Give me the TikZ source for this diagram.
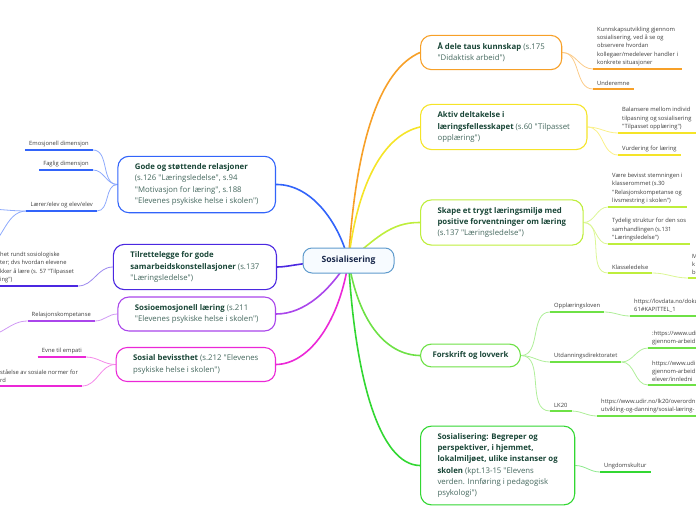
\documentclass[tikz,border=0pt]{standalone}
\usepackage{fontspec}
\setmainfont{Open Sans}[Ligatures=TeXOff]
\usetikzlibrary{backgrounds}
\definecolor{brorange}{RGB}{247,160,40}
\definecolor{bryellow}{RGB}{245,228,40}
\definecolor{brlime}{RGB}{190,238,60}
\definecolor{brgreen}{RGB}{110,225,70}
\definecolor{brgreenb}{RGB}{50,215,50}
\definecolor{brblue}{RGB}{50,100,250}
\definecolor{brindigo}{RGB}{75,40,225}
\definecolor{brpurple}{RGB}{170,70,235}
\definecolor{brmagenta}{RGB}{235,40,215}
\definecolor{rootline}{RGB}{95,155,205}
\definecolor{rootfill}{RGB}{247,251,255}
\definecolor{rootnavy}{RGB}{25,40,75}
\definecolor{headgreen}{RGB}{25,70,55}
\definecolor{refgray}{RGB}{70,105,95}
\definecolor{leafgray}{RGB}{60,60,60}
\newcommand{\tbold}[1]{\textbf{\color{headgreen}#1}}

\begin{document}
\begin{tikzpicture}[x=1pt, y=-1pt]
  \tikzset{
      root/.style={draw=rootline, fill=rootfill, line width=1pt, rounded corners=9pt, minimum width=91pt, minimum height=25pt, text=rootnavy, font=\fontsize{8.6}{10}\selectfont\bfseries},
      topic/.style={draw=#1, fill=white, line width=1.1pt, rounded corners=11pt, align=left, inner xsep=17pt, inner ysep=7.5pt, text=refgray, font=\fontsize{7.8}{11.2}\selectfont},
      leaf/.style={align=left, inner xsep=4pt, inner ysep=3pt, text=leafgray, font=\fontsize{5.8}{8.3}\selectfont},
      branch/.style={draw=#1, line width=1.6pt},
      twig/.style={draw=#1!55!white, line width=0.8pt},
      uline/.style={draw=#1, line width=1.6pt}
  }
  \useasboundingbox (0,0) rectangle (696,520);
  \clip (0,0) rectangle (696,520);

  \node[root] (root) at (348.5,260.5) {Sosialisering};

  \node[topic=brorange, anchor=west] (share) at (420,52.5) {\tbold{Å dele taus kunnskap} (s.175\\"Didaktisk arbeid")};
  \node[topic=bryellow, anchor=west] (aktiv) at (420,127) {\tbold{Aktiv deltakelse i}\\\tbold{læringsfellesskapet} (s.60 "Tilpasset\\opplæring")};
  \node[topic=brlime, anchor=west] (trygt) at (420,222.5) {\tbold{Skape et trygt læringsmiljø med}\\\tbold{positive forventninger om læring}\\(s.137 "Læringsledelse")};
  \node[topic=brgreen, anchor=west, inner xsep=12pt] (lov) at (420,355.5) {\tbold{Forskrift og lovverk}};
  \node[topic=brgreenb, anchor=west] (begrep) at (420,465.5) {\tbold{Sosialisering: Begreper og}\\\tbold{perspektiver, i hjemmet,}\\\tbold{lokalmiljøet, ulike instanser og}\\\tbold{skolen} (kpt.13-15 "Elevens\\verden. Innføring i pedagogisk\\psykologi")};

  \node[topic=brblue, anchor=east] (relasj) at (276,184.5) {\tbold{Gode og støttende relasjoner}\\(s.126 "Læringsledelse", s.94\\"Motivasjon for læring", s.188\\"Elevenes psykiske helse i skolen")};
  \node[topic=brindigo, anchor=east] (samarb) at (277,267) {\tbold{Tilrettelegge for gode}\\\tbold{samarbeidskonstellasjoner} (s.137\\"Læringsledelse")};
  \node[topic=brpurple, anchor=east] (sosemo) at (276,314) {\tbold{Sosioemosjonell læring} (s.211\\"Elevenes psykiske helse i skolen")};
  \node[topic=brmagenta, anchor=east] (bevisst) at (276,364.5) {\tbold{Sosial bevissthet} (s.212 "Elevenes\\psykiske helse i skolen")};

  \node[leaf, anchor=south west] (kunn) at (593,69) {Kunnskapsutvikling gjennom\\sosialisering, ved å se og\\observere hvordan\\kollegaer/medelever handler i\\konkrete situasjoner};
  \node[leaf, anchor=south west] (under) at (593,89) {Underemne};
  \node[leaf, anchor=south west] (bal) at (618,133) {Balansere mellom individ\\tilpasning og sosialisering\\"Tilpasset opplæring")};
  \node[leaf, anchor=south west] (vurd) at (618,155) {Vurdering for læring};
  \node[leaf, anchor=south west] (vaere) at (608,207) {Være bevisst stemningen i\\klasserommet (s.30\\"Relasjonskompetanse og\\livsmestring i skolen")};
  \node[leaf, anchor=south west] (tyd) at (608,244) {Tydelig struktur for den sos\\samhandlingen (s.131\\"Læringsledelse")};
  \node[leaf, anchor=south west] (klasse) at (608,273) {Klasseledelse};
  \node[leaf, anchor=south west] (klm) at (688,278) {M\\k\\b};
  \node[leaf, anchor=south west] (opp) at (550,312) {Opplæringsloven};
  \node[leaf, anchor=south west] (lovd) at (630,316) {https://lovdata.no/doku\\61\#KAPITTEL\_1};
  \node[leaf, anchor=south west] (udir) at (550,362) {Utdanningsdirektoratet};
  \node[leaf, anchor=south west] (udia) at (648,348) {:https://www.udi\\gjennom-arbeid};
  \node[leaf, anchor=south west] (udib) at (648,385) {https://www.udi\\gjennom-arbeid\\elever/innledni};
  \node[leaf, anchor=south west] (lk) at (550,411) {LK20};
  \node[leaf, anchor=south west] (lklink) at (597,416) {https://www.udir.no/lk20/overordn\\utvikling-og-danning/sosial-læring-};
  \node[leaf, anchor=south west] (ungdom) at (600,472) {Ungdomskultur};

  \node[leaf, anchor=south east] (emo) at (93,150) {Emosjonell dimensjon};
  \node[leaf, anchor=south east] (fag) at (93,170) {Faglig dimensjon};
  \node[leaf, anchor=south east] (lerer) at (97,211) {Lærer/elev og elev/elev};
  \node[leaf, anchor=south west] (sosio) at (-4,286) {het rundt sosiologiske\\ter; dvs hvordan elevene\\kker å lære (s. 57 "Tilpasset\\ing")};
  \node[leaf, anchor=south east] (rel) at (95,321) {Relasjonskompetanse};
  \node[leaf, anchor=south east] (emp) at (86,357) {Evne til empati};
  \node[leaf, anchor=south west] (norm) at (-4,386) {ståelse av sosiale normer for\\rd};

  \coordinate (offa) at (-15,209);
  \coordinate (offb) at (-20,249);
  \coordinate (offc) at (-15,336);

  \foreach \n/\c in {kunn/brorange, under/brorange, bal/bryellow, vurd/bryellow,
      vaere/brlime, tyd/brlime, klasse/brlime, klm/brlime,
      opp/brgreen, lovd/brgreen, udir/brgreen, udia/brgreen, udib/brgreen, lk/brgreen, lklink/brgreen,
      ungdom/brgreenb, emo/brblue, fag/brblue, lerer/brblue, sosio/brindigo,
      rel/brpurple, emp/brmagenta, norm/brmagenta}
    \draw[uline=\c] (\n.south west) -- (\n.south east);

  \begin{scope}[on background layer]
    \draw[branch=brorange] (root.center) .. controls (356,140) and (380,70) .. (share.west);
    \draw[branch=bryellow] (root.center) .. controls (358,180) and (385,135) .. (aktiv.west);
    \draw[branch=brlime] (root.center) .. controls (375,240) and (390,222) .. (trygt.west);
    \draw[branch=brgreen] (root.center) .. controls (358,320) and (385,355) .. (lov.west);
    \draw[branch=brgreenb] (root.center) .. controls (355,380) and (380,465) .. (begrep.west);
    \draw[branch=brblue] (root.center) .. controls (338,220) and (310,184) .. (relasj.east);
    \draw[branch=brindigo] (root.center) .. controls (300,262) and (290,267) .. (samarb.east);
    \draw[branch=brpurple] (root.center) .. controls (330,290) and (305,314) .. (sosemo.east);
    \draw[branch=brmagenta] (root.center) .. controls (340,320) and (310,364) .. (bevisst.east);

    \draw[twig=brorange] (share.east) to[out=0,in=180] (kunn.south west);
    \draw[twig=brorange] (share.east) to[out=0,in=180] (under.south west);
    \draw[twig=bryellow] (aktiv.east) to[out=0,in=180] (bal.south west);
    \draw[twig=bryellow] (aktiv.east) to[out=0,in=180] (vurd.south west);
    \draw[twig=brlime] (trygt.east) to[out=0,in=180] (vaere.south west);
    \draw[twig=brlime] (trygt.east) to[out=0,in=180] (tyd.south west);
    \draw[twig=brlime] (trygt.east) to[out=0,in=180] (klasse.south west);
    \draw[twig=brlime] (klasse.south east) to[out=0,in=180] (klm.south west);
    \draw[twig=brgreen] (lov.east) to[out=0,in=180] (opp.south west);
    \draw[twig=brgreen] (lov.east) to[out=0,in=180] (udir.south west);
    \draw[twig=brgreen] (lov.east) to[out=0,in=180] (lk.south west);
    \draw[twig=brgreen] (opp.south east) to[out=0,in=180] (lovd.south west);
    \draw[twig=brgreen] (udir.south east) to[out=0,in=180] (udia.south west);
    \draw[twig=brgreen] (udir.south east) to[out=0,in=180] (udib.south west);
    \draw[twig=brgreen] (lk.south east) to[out=0,in=180] (lklink.south west);
    \draw[twig=brgreenb] (begrep.east) to[out=0,in=180] (ungdom.south west);

    \draw[twig=brblue] (relasj.west) to[out=180,in=0] (emo.south east);
    \draw[twig=brblue] (relasj.west) to[out=180,in=0] (fag.south east);
    \draw[twig=brblue] (relasj.west) to[out=180,in=0] (lerer.south east);
    \draw[twig=brblue] (lerer.south west) to[out=180,in=0] (offa);
    \draw[twig=brblue] (lerer.south west) to[out=180,in=0] (offb);
    \draw[twig=brindigo] (samarb.west) to[out=180,in=0] (sosio.south east);
    \draw[twig=brpurple] (sosemo.west) to[out=180,in=0] (rel.south east);
    \draw[twig=brpurple] (rel.south west) to[out=180,in=0] (offc);
    \draw[twig=brmagenta] (bevisst.west) to[out=180,in=0] (emp.south east);
    \draw[twig=brmagenta] (bevisst.west) to[out=180,in=0] (norm.south east);
  \end{scope}
\end{tikzpicture}
\end{document}
